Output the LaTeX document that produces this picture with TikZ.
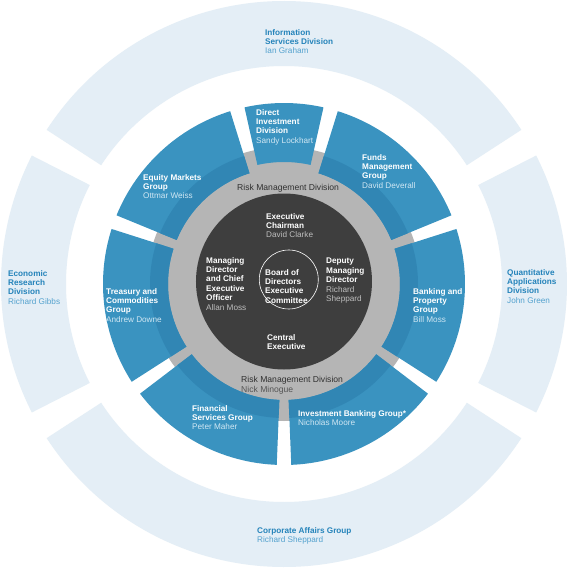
\documentclass[tikz,border=0pt]{standalone}
\usepackage{fontspec}
\setmainfont{Liberation Sans}
\usepackage{tikz}

\definecolor{ringlight}{RGB}{228,238,246}
\definecolor{segblue}{RGB}{58,147,192}
\definecolor{segdark}{RGB}{49,134,180}
\definecolor{rmgray}{RGB}{181,181,181}
\definecolor{boardgray}{RGB}{62,62,62}
\definecolor{outerhead}{RGB}{36,131,186}
\definecolor{outername}{RGB}{84,162,206}
\definecolor{segname}{RGB}{208,231,243}
\definecolor{grayhead}{RGB}{48,48,48}
\definecolor{grayname}{RGB}{85,85,85}
\definecolor{darkname}{RGB}{190,190,190}

% annular sector: colour, start angle, end angle, inner radius, outer radius
\newcommand{\ringpart}[5]{%
  \fill[#1] (#2:#4) arc[start angle=#2, end angle=#3, radius=#4]
    -- (#3:#5) arc[start angle=#3, end angle=#2, radius=#5] -- cycle;}

\begin{document}
\begin{tikzpicture}[x=1pt, y=1pt,
    lbl/.style={anchor=north west, inner sep=0pt, align=left,
      font=\fontsize{8.2}{9.4}\selectfont\bfseries},
    outerlbl/.style={lbl, text=outerhead},
    seglbl/.style={lbl, text=white},
    graylbl/.style={lbl, text=grayhead, font=\fontsize{8.6}{9.6}\selectfont},
    boardlbl/.style={lbl, text=white}]
    \useasboundingbox (-284,-284) rectangle (284,284);
    \fill[white] (-284,-284) rectangle (284,284);

    % Outer ring
    \foreach \a/\b in {-30/30, 30/150, 150/210, 210/330} {
        \pgfmathsetmacro{\s}{\a+3}
        \pgfmathsetmacro{\e}{\b-3}
        \ringpart{ringlight}{\s}{\e}{218}{283}
    }

    % Risk management disc
    \fill[rmgray] (0,0) circle[radius=137];

    % Groups
    \foreach \a/\b in {105/160, 20/75, -35/20, -90/-35, -145/-90, 160/215} {
        \pgfmathsetmacro{\s}{\a+2.3}
        \pgfmathsetmacro{\e}{\b-2.3}
        \ringpart{segblue}{\s}{\e}{116}{181}
        \ringpart{segdark}{\s}{\e}{116}{134}
    }
    \ringpart{segblue}{77.4}{102.6}{122}{181}

    % Executive committee
    \fill[boardgray] (0,2.5) circle[radius=88];
    \draw[white, line width=0.6pt] (4.8,4.5) circle[radius=29.5];

    % Nodes
    \node[outerlbl] (isd) at (-19,255)
        {Information\\Services Division\\{\mdseries\color{outername}Ian Graham}};
    \node[outerlbl] (erd) at (-276,14)
        {Economic\\Research\\Division\\{\mdseries\color{outername}Richard Gibbs}};
    \node[outerlbl] (qad) at (223,15)
        {Quantitative\\Applications\\Division\\{\mdseries\color{outername}John Green}};
    \node[outerlbl] (cag) at (-27,-243)
        {Corporate Affairs Group\\{\mdseries\color{outername}Richard Sheppard}};

    \node[seglbl] (did) at (-28,175)
        {Direct\\Investment\\Division\\{\mdseries\color{segname}Sandy Lockhart}};
    \node[seglbl] (fmg) at (78,130)
        {Funds\\Management\\Group\\{\mdseries\color{segname}David Deverall}};
    \node[seglbl] (emg) at (-141,110)
        {Equity Markets\\Group\\{\mdseries\color{segname}Ottmar Weiss}};
    \node[seglbl] (tcg) at (-178,-4)
        {Treasury and\\Commodities\\Group\\{\mdseries\color{segname}Andrew Downe}};
    \node[seglbl] (bpg) at (129,-4)
        {Banking and\\Property\\Group\\{\mdseries\color{segname}Bill Moss}};
    \node[seglbl] (fsg) at (-92,-121)
        {Financial\\Services Group\\{\mdseries\color{segname}Peter Maher}};
    \node[seglbl] (ibg) at (14,-126)
        {Investment Banking Group*\\{\mdseries\color{segname}Nicholas Moore}};

    \node[graylbl] (rmtop) at (-47,100) {Risk Management Division};
    \node[graylbl] (rmbot) at (-43,-92)
        {Risk Management Division\\{\color{grayname}Nick Minogue}};

    \node[boardlbl] (chair) at (-18,71)
        {Executive\\Chairman\\{\mdseries\color{darkname}David Clarke}};
    \node[boardlbl] (ceo) at (-78,27)
        {Managing\\Director\\and Chief\\Executive\\Officer\\{\mdseries\color{darkname}Allan Moss}};
    \node[boardlbl] (board) at (-19,15)
        {Board of\\Directors\\Executive\\Committee};
    \node[boardlbl] (dmd) at (42,26)
        {Deputy\\Managing\\Director\\{\mdseries\color{darkname}Richard}\\{\mdseries\color{darkname}Sheppard}};
    \node[boardlbl] (cex) at (-17,-50) {Central\\Executive};
\end{tikzpicture}
\end{document}
